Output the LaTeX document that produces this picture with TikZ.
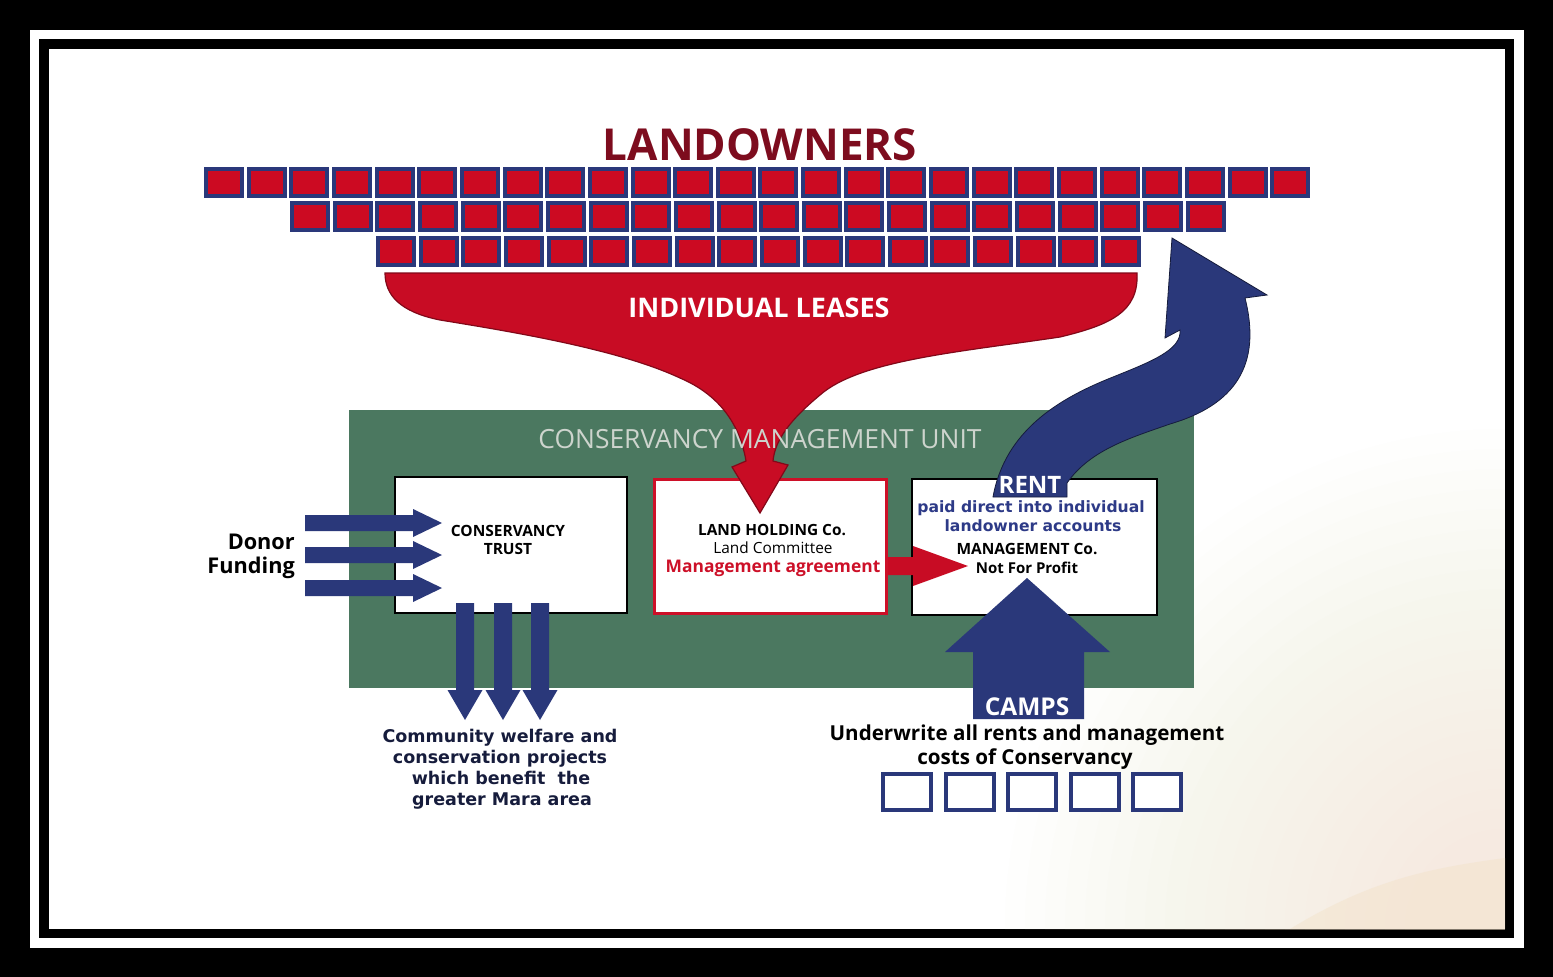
\documentclass[tikz,border=0pt]{standalone}
\usepackage{fontspec}
\setmainfont{Open Sans}
\newfontfamily\dvs{DejaVu Sans}
\definecolor{navy}{RGB}{42,56,122}
\definecolor{sqred}{RGB}{204,10,34}
\definecolor{lred}{RGB}{200,12,36}
\definecolor{edgered}{RGB}{130,8,25}
\definecolor{dred}{RGB}{125,12,30}
\definecolor{cgreen}{RGB}{75,120,96}
\definecolor{ltgray}{RGB}{205,212,205}
\definecolor{txtnavy}{RGB}{45,58,135}
\definecolor{darknavy}{RGB}{22,28,60}
\definecolor{boxred}{RGB}{205,16,40}
\definecolor{cream}{RGB}{246,232,210}
\definecolor{hill}{RGB}{242,224,196}
\begin{document}
\begin{tikzpicture}[x=1pt,y=-1pt,
  sq/.style={draw=navy, line width=4pt, fill=sqred, minimum width=36pt, minimum height=27pt, inner sep=0pt, outer sep=0pt},
  camp/.style={draw=navy, line width=4pt, fill=white, minimum width=48pt, minimum height=36pt, inner sep=0pt, outer sep=0pt},
  wbox/.style={draw=black, line width=2pt, fill=white, inner sep=0pt},
  txt/.style={inner sep=0pt, text depth=0pt},
  blockarrow/.style={fill=navy}
]
\useasboundingbox (0,0) rectangle (1553,977);
% frame
\fill[black] (0,0) rectangle (1553,977);
\fill[white] (30,30) rectangle (1524,948);
\fill[black] (39,39) rectangle (1514,938);
\fill[white] (49,49) rectangle (1505,929);
\begin{scope}
\clip (49,49) rectangle (1505,929);
\foreach \r in {500,480,...,100} \fill[cream, opacity=0.035] (1505,929) circle (\r);
\fill[hill, opacity=0.4] (1290,929) .. controls (1370,880) and (1430,868) .. (1505,858) -- (1505,929) -- cycle;
\end{scope}

% landowner squares
\foreach \i in {0,...,25} \node[sq] (ra\i) at (224+42.65*\i,182.5) {};
\foreach \i in {0,...,21} \node[sq] (rb\i) at (310+42.65*\i,216.5) {};
\foreach \i in {0,...,17} \node[sq] (rc\i) at (396+42.65*\i,251.5) {};

\node[txt, font=\bfseries\fontsize{44}{48}\selectfont, text=dred] (landowners) at (760,145) {LANDOWNERS};

% green management unit
\node[fill=cgreen, minimum width=845pt, minimum height=278pt, inner sep=0pt] (cmu) at (771.5,549) {};

% boxes
\node[wbox, minimum width=232pt, minimum height=136pt] (trust) at (511,545) {};
\node[draw=boxred, line width=3.5pt, fill=white, minimum width=232pt, minimum height=134pt, inner sep=0pt] (land) at (770.5,546.5) {};
\node[wbox, minimum width=245pt, minimum height=136pt] (mgmt) at (1034.5,547) {};

% funnel (individual leases)
\fill[lred, draw=edgered, line width=1.2pt]
 (385,273) -- (1137,273)
 .. controls (1139,312) and (1110,325) .. (1060,337)
 .. controls (960,352) and (860,360) .. (820,395)
 .. controls (790,420) and (775,440) .. (773,461)
 -- (788,465) -- (760,513) -- (732,467) -- (746,461)
 .. controls (740,425) and (720,395) .. (680,378)
 .. controls (620,350) and (520,333) .. (440,320)
 .. controls (400,312) and (385,295) .. (385,273) -- cycle;
\node[txt, font=\bfseries\fontsize{27}{30}\selectfont, text=white] (leases) at (759,308) {INDIVIDUAL LEASES};
\node[txt, font=\fontsize{26.4}{29}\selectfont, text=ltgray] (cmulabel) at (760,439) {CONSERVANCY MANAGEMENT UNIT};

% rent arrow
\fill[navy, draw=darknavy, line width=0.8pt]
 (993,497) -- (1067,497) -- (1067,483)
 .. controls (1090,450) and (1130,438) .. (1170,424)
 .. controls (1235,405) and (1262,365) .. (1245,298)
 -- (1267,295) -- (1172,238) -- (1165,338) -- (1180,330)
 .. controls (1182,350) and (1150,362) .. (1113,377)
 .. controls (1060,398) and (1005,430) .. (993,497) -- cycle;

% management agreement arrow
\fill[lred] (888,557) -- (913,557) -- (913,546) -- (968,566) -- (913,586) -- (913,575) -- (888,575) -- cycle;

% donor arrows
\foreach \yc in {523,555,588}
  \fill[blockarrow] (305,\yc-8) -- (413,\yc-8) -- (413,\yc-14) -- (442,\yc) -- (413,\yc+14) -- (413,\yc+8) -- (305,\yc+8) -- cycle;
% down arrows
\foreach \xc in {465,503,540}
  \fill[blockarrow] (\xc-9,603) -- (\xc+9,603) -- (\xc+9,690) -- (\xc+17.5,690) -- (\xc,720) -- (\xc-17.5,690) -- (\xc-9,690) -- cycle;
% camps arrow
\fill[blockarrow] (973,719) -- (1084,719) -- (1084,652) -- (1110,652) -- (1027,578) -- (945,652) -- (973,652) -- cycle;

% texts in boxes
\node[txt, font=\bfseries\fontsize{15.5}{18}\selectfont] (ct1) at (508,531) {CONSERVANCY};
\node[txt, font=\bfseries\fontsize{15.5}{18}\selectfont] (ct2) at (508,549) {TRUST};
\node[txt, font=\bfseries\fontsize{15.4}{18}\selectfont] (lh1) at (772,530) {LAND HOLDING Co.};
\node[txt, font=\fontsize{15.4}{18}\selectfont] (lh2) at (773,548) {Land Committee};
\node[txt, font=\bfseries\fontsize{17.4}{20}\selectfont, text=boxred] (lh3) at (773,566) {Management agreement};
\node[txt, font=\bfseries\fontsize{24}{27}\selectfont, text=white] (rent) at (1030,485) {RENT};
\node[txt, font=\dvs\bfseries\fontsize{15.6}{18}\selectfont, text=txtnavy] (pd1) at (1031,507) {paid direct into individual};
\node[txt, font=\dvs\bfseries\fontsize{15.6}{18}\selectfont, text=txtnavy] (pd2) at (1033,526) {landowner accounts};
\node[txt, font=\bfseries\fontsize{15.5}{18}\selectfont] (mc1) at (1027,549) {MANAGEMENT Co.};
\node[txt, font=\bfseries\fontsize{15}{18}\selectfont] (mc2) at (1027,568) {Not For Profit};

\node[txt, anchor=east, font=\bfseries\fontsize{21.7}{24}\selectfont] (donor) at (295,542) {Donor};
\node[txt, anchor=east, font=\bfseries\fontsize{21.7}{24}\selectfont] (funding) at (295,565) {Funding};

\node[txt, font=\bfseries\fontsize{24.5}{27}\selectfont, text=white] (camps) at (1027,707) {CAMPS};
\node[txt, font=\bfseries\fontsize{20.6}{24}\selectfont] (uw1) at (1027,733) {Underwrite all rents and management};
\node[txt, font=\bfseries\fontsize{20.6}{24}\selectfont] (uw2) at (1025,757) {costs of Conservancy};

\node[txt, font=\dvs\bfseries\fontsize{17.5}{21}\selectfont, text=darknavy] (cw1) at (500,736) {Community welfare and};
\node[txt, font=\dvs\bfseries\fontsize{17.5}{21}\selectfont, text=darknavy] (cw2) at (500,757) {conservation projects};
\node[txt, font=\dvs\bfseries\fontsize{17.5}{21}\selectfont, text=darknavy] (cw3) at (501,778) {which benefit\ \ the};
\node[txt, font=\dvs\bfseries\fontsize{17.5}{21}\selectfont, text=darknavy] (cw4) at (502,799) {greater Mara area};

% camp squares
\foreach \i in {0,...,4} \node[camp] (camp\i) at (907+62.5*\i,792) {};
\end{tikzpicture}
\end{document}
